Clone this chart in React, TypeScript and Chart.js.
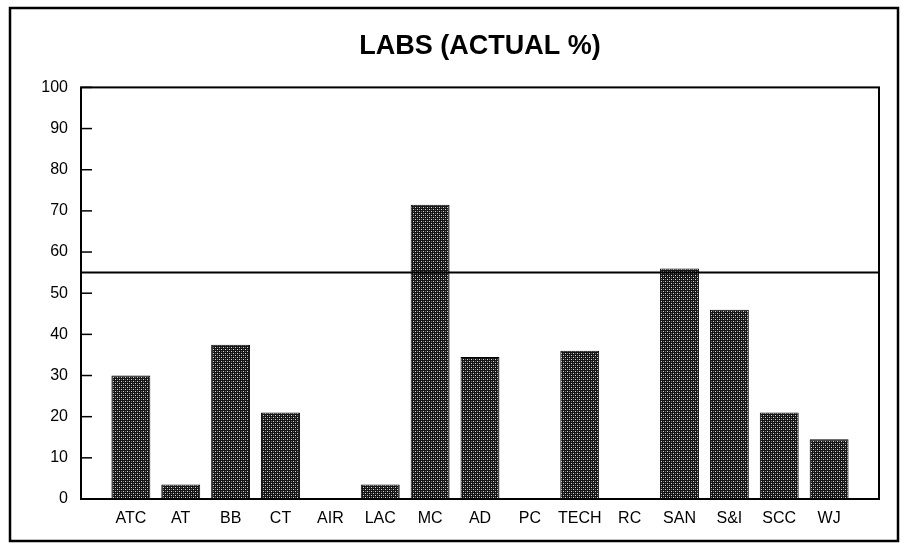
import React, { useEffect, useRef } from "react";
import { Chart, registerables } from "chart.js";

Chart.register(...registerables);

const categories = ["ATC", "AT", "BB", "CT", "AIR", "LAC", "MC", "AD", "PC", "TECH", "RC", "SAN", "S&I", "SCC", "WJ"];
const actualPct = [30, 3.5, 37.5, 21, 0, 3.5, 71.5, 34.5, 0, 36, 0, 56, 46, 21, 14.5];
const targetPct = 55;
const yTicks = [0, 10, 20, 30, 40, 50, 60, 70, 80, 90, 100];
const titleText = "LABS (ACTUAL %)";

function makePattern(): CanvasPattern | string {
  const c = document.createElement("canvas");
  c.width = 4;
  c.height = 4;
  const g = c.getContext("2d");
  if (!g) return "#333";
  g.fillStyle = "#141414";
  g.fillRect(0, 0, 4, 4);
  g.fillStyle = "#d8d8d8";
  g.fillRect(1, 1, 1, 1);
  g.fillRect(3, 3, 1, 1);
  g.fillStyle = "#6a6a6a";
  g.fillRect(3, 1, 1, 1);
  g.fillRect(1, 3, 1, 1);
  const p = g.createPattern(c, "repeat");
  return p || "#333";
}

const framePlugin = {
  id: "framePlugin",
  beforeDraw(chart: any) {
    const ctx = chart.ctx;
    ctx.save();
    ctx.fillStyle = "#ffffff";
    ctx.fillRect(0, 0, chart.width, chart.height);
    ctx.restore();
  },
  afterDatasetsDraw(chart: any) {
    const ctx = chart.ctx;
    const a = chart.chartArea;
    const y = chart.scales.y;
    ctx.save();
    ctx.strokeStyle = "#000";
    ctx.lineWidth = 2;
    const ry = y.getPixelForValue(targetPct);
    ctx.beginPath();
    ctx.moveTo(a.left, ry);
    ctx.lineTo(a.right, ry);
    ctx.stroke();
    ctx.lineWidth = 1.5;
    yTicks.forEach((v) => {
      const py = y.getPixelForValue(v);
      ctx.beginPath();
      ctx.moveTo(a.left, py);
      ctx.lineTo(a.left + 11, py);
      ctx.stroke();
    });
    ctx.lineWidth = 2;
    ctx.strokeRect(a.left, a.top, a.right - a.left, a.bottom - a.top);
    ctx.lineWidth = 2.5;
    ctx.strokeRect(10, 8, chart.width - 14, chart.height - 11);
    ctx.restore();
  },
};

export default function App() {
  const ref = useRef<HTMLCanvasElement | null>(null);
  useEffect(() => {
    if (!ref.current) return;
    Chart.defaults.font.family = "'Liberation Sans', Arial, sans-serif";
    const pattern = makePattern();
    const chart = new Chart(ref.current, {
      type: "bar",
      data: {
        datasets: [
          {
            label: "Actual %",
            data: actualPct.map((v, i) => ({ x: i, y: v })),
            backgroundColor: pattern as any,
            borderColor: "#000",
            borderWidth: 1,
            borderSkipped: false,
            barPercentage: 0.78,
            categoryPercentage: 1,
          },
        ],
      },
      options: {
        animation: false,
        responsive: true,
        maintainAspectRatio: false,
        layout: { padding: { left: 21, right: 23, top: 10, bottom: 0 } },
        plugins: {
          legend: { display: false },
          tooltip: { enabled: false },
          title: {
            display: true,
            text: titleText,
            fullSize: false,
            color: "#000",
            font: { size: 27, weight: "bold", family: "'Liberation Sans', Arial, sans-serif" },
            padding: { top: 20, bottom: 25 },
          },
        },
        scales: {
          x: {
            type: "linear",
            min: -1,
            max: 15,
            offset: false,
            bounds: "data",
            grid: { display: false, drawTicks: false, offset: false },
            border: { display: false },
            afterBuildTicks: (scale: any) => {
              scale.ticks = categories.map((_, i) => ({ value: i }));
            },
            afterFit: (scale: any) => {
              scale.height = 45;
            },
            ticks: {
              autoSkip: false,
              maxRotation: 0,
              padding: 10,
              color: "#000",
              font: { size: 16 },
              callback: (v: any) => categories[v] ?? "",
            },
          },
          y: {
            min: 0,
            max: 100,
            grid: { display: false, drawTicks: false },
            border: { display: false },
            afterFit: (scale: any) => {
              scale.width = 60;
            },
            afterBuildTicks: (scale: any) => {
              scale.ticks = yTicks.map((v) => ({ value: v }));
            },
            ticks: {
              padding: 13,
              color: "#000",
              font: { size: 16 },
            },
          },
        },
      },
      plugins: [framePlugin],
    } as any);
    return () => chart.destroy();
  }, []);
  return (
    <div style={{ position: "fixed", left: 0, top: 0, width: 902, height: 544, background: "#fff" }}>
      <canvas ref={ref} />
    </div>
  );
}
